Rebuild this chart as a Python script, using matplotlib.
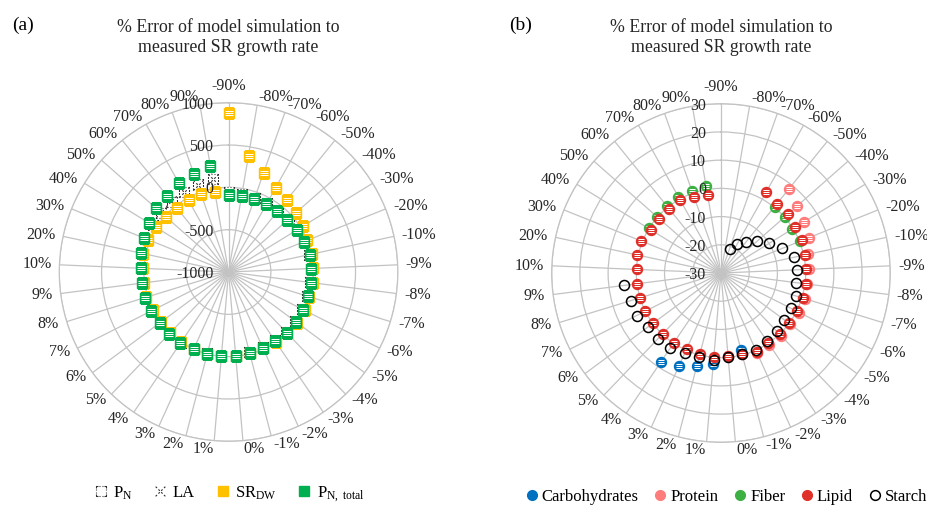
import numpy as np
import matplotlib.pyplot as plt
from matplotlib.path import Path
from matplotlib.lines import Line2D

plt.rcParams['font.family'] = ['Liberation Serif', 'DejaVu Serif']
plt.rcParams['mathtext.fontset'] = 'custom'
plt.rcParams['mathtext.rm'] = 'Liberation Serif'
plt.rcParams['mathtext.it'] = 'Liberation Serif:italic'

nan = np.nan

# categories (parameter change), clockwise from the top
cats = ['-90%', '-80%', '-70%', '-60%', '-50%', '-40%', '-30%', '-20%', '-10%',
        '-9%', '-8%', '-7%', '-6%', '-5%', '-4%', '-3%', '-2%', '-1%', '0%',
        '1%', '2%', '3%', '4%', '5%', '6%', '7%', '8%', '9%',
        '10%', '20%', '30%', '40%', '50%', '60%', '70%', '80%', '90%']

# panel (a)
pn = [-60, -65, -70, -70, -65, -55, -50, -45, -25, -30, -25, -28, -22, -22, -12, -24, -26, -22, -8,
      -5, -8, -8, 8, 4, 8, 18, 30, 24, 30, 45, 50, 55, 60, 70, 80, 100, 120]
la = [-62, -67, -72, -72, -67, -58, -50, -45, -25, -30, -25, -28, -22, -22, -12, -24, -26, -22, -8,
      -5, -8, -8, 8, 4, 8, 18, 30, 24, 30, 40, 45, 55, 65, 75, 85, 92, 110]
sr_dw = [881, 395, 240, 140, 100, 62, 37, 0, 5, 0, 5, 0, 5, 5, 0, -5, -21, -16, -3,
         0, -2, -3, 0, -5, -5, 5, 15, 10, 15, 35, 20, 9, -23, -30, -31, -28, -41]
pn_total = [-87, -91, -88, -84, -80, -75, -45, -42, -19, -26, -20, -24, -16, -16, -6, -18, -21, -16, -3,
            0, -2, -3, 14, 10, 14, 25, 37, 30, 35, 56, 81, 108, 137, 152, 199, 225, 271]
rticks_a = [-1000, -500, 0, 500, 1000]

# panel (b)
carbohydrates = [nan] * 17 + [-1.7, nan, 2.3, 4.2, 6.1, 7.9] + [nan] * 14
protein = [nan] * 4 + [8.4, 6.0, 4.7, 3.5, 1.7, 1.3, 0.8, 1.3, 1.1, 0.6, 0.9, 0.6, 1.2] + [nan] * 20
fiber = [nan] * 4 + [0.2, 0.3, -0.3, 0.0] + [nan] * 23 + [0.1, 0.2, 0.4, 0.9, 0.9, 1.4]
lipid = [nan, nan, nan, 2.7, 1.5, 1.5, 0.9, 1.1, 0.6, 0.2, 0.4, 0.4, 0.1, -0.1, 0.0, 0.0, 0.7, -0.3, -0.5,
         0.0, -0.3, -0.4, -0.2, -0.3, -0.1, 0.2, 0.1, 0.1, -0.1, 0.4, 0.4, -0.8, -0.9, -0.8, -0.5, -1.5, -2.1]
starch = [nan, nan, -20.8, -18.4, -16.0, -12.9, -10.0, -6.6, -3.5, -3.1, -3.2, -2.3, -2.2, -2.2, -1.3, -1.0,
          0.1, -0.3, -0.3, 0.9, 0.7, 1.3, 2.1, 2.3, 2.2, 3.5, 3.3, 4.6] + [nan] * 9
rticks_b = [-30, -20, -10, 0, 10, 20, 30]

grid_c = '#C3C3C3'


def dashed(segs, n):
    verts, codes = [], []
    for (x0, y0), (x1, y1) in segs:
        for k in range(n):
            a, b = (2 * k) / (2 * n - 1), (2 * k + 1) / (2 * n - 1)
            verts += [(x0 + (x1 - x0) * a, y0 + (y1 - y0) * a), (x0 + (x1 - x0) * b, y0 + (y1 - y0) * b)]
            codes += [Path.MOVETO, Path.LINETO]
    return Path(verts, codes)


def stripes(half, ys):
    verts, codes = [], []
    for y, h in zip(ys, half):
        verts += [(-h, y), (h, y)]
        codes += [Path.MOVETO, Path.LINETO]
    return Path(verts, codes)


sq_dots = dashed([((-.5, -.5), (.5, -.5)), ((.5, -.5), (.5, .5)), ((.5, .5), (-.5, .5)), ((-.5, .5), (-.5, -.5))], 4)
x_dots = dashed([((-.5, -.5), (.5, .5)), ((-.5, .5), (.5, -.5))], 4)
sq_stripes = stripes([0.35, 0.35, 0.35], [-0.22, 0.0, 0.22])
ci_stripes = stripes([0.26, 0.32, 0.26], [-0.2, 0.0, 0.2])

theta = np.arange(len(cats)) * 2 * np.pi / len(cats)


def setup(ax, rticks):
    ax.set_theta_zero_location('N')
    ax.set_theta_direction(-1)
    ax.set_ylim(rticks[0], rticks[-1])
    ax.set_yticks(rticks)
    ax.set_yticklabels([])
    ax.set_xticks(theta)
    ax.set_xticklabels([])
    ax.grid(True, color=grid_c, lw=0.9)
    ax.spines['polar'].set_color(grid_c)
    ax.spines['polar'].set_linewidth(0.9)
    ax.tick_params(length=0)
    ax.set_axisbelow(True)
    for v in rticks:
        ax.annotate(str(v), xy=(0, v), xytext=(-15, -2), textcoords='offset pixels',
                    ha='right', va='center', fontsize=11.5, color='#262626')
    for t, lab in zip(theta, cats):
        s, c = np.sin(t), np.cos(t)
        if abs(s) < 1e-6:
            ax.annotate(lab, xy=(t, rticks[-1]), xytext=(0, 9), textcoords='offset pixels',
                        ha='center', va='bottom', fontsize=11.5, color='#262626')
        else:
            ax.annotate(lab, xy=(t, rticks[-1]), xytext=(8 * s, 8 * c), textcoords='offset pixels',
                        ha='left' if s > 0 else 'right', va='center', fontsize=11.5, color='#262626')


def striped(ax, vals, marker, ms, col, strp, sms):
    ax.plot(theta, vals, ls='none', marker=marker, ms=ms, mfc=col, mec=col, mew=1.0)
    ax.plot(theta, vals, ls='none', marker=strp, ms=sms, mec='white', mew=0.7)


fig = plt.figure(figsize=(9.27, 5.08), dpi=100)
axA = fig.add_axes([0.0639, 0.1313, 0.3653, 0.6665], projection='polar')
axB = fig.add_axes([0.5951, 0.1293, 0.3653, 0.6665], projection='polar')
setup(axA, rticks_a)
setup(axB, rticks_b)

# panel (a) series
axA.plot(theta, pn, ls='none', marker='s', ms=7.5, mfc='white', mec='none')
axA.plot(theta, pn, ls='none', marker=sq_dots, ms=7.5, mec='#303030', mew=0.8)
axA.plot(theta, la, ls='none', marker=x_dots, ms=7.5, mec='#303030', mew=0.8)
striped(axA, sr_dw, 's', 7.5, '#FFC000', sq_stripes, 5.25)
striped(axA, pn_total, 's', 7.5, '#00B050', sq_stripes, 5.25)

# panel (b) series
striped(axB, carbohydrates, 'o', 7.2, '#0070C0', ci_stripes, 4.6)
striped(axB, protein, 'o', 7.2, '#FF7C7C', ci_stripes, 4.6)
striped(axB, fiber, 'o', 7.2, '#3CB043', ci_stripes, 4.6)
striped(axB, lipid, 'o', 7.2, '#E0302A', ci_stripes, 4.6)
axB.plot(theta, starch, ls='none', marker='o', ms=7.2, mfc='none', mec='black', mew=1.1)

# titles and panel letters
for cx in (228.5, 721.0):
    fig.text(cx / 927, 1 - 27 / 508, '% Error of model simulation to', ha='center', va='center',
             fontsize=12.8, color='#262626')
    fig.text(cx / 927, 1 - 48 / 508, 'measured SR growth rate', ha='center', va='center',
             fontsize=12.8, color='#262626')
fig.text(23 / 927, 1 - 25 / 508, '(a)', ha='center', va='center', fontsize=14)
fig.text(521 / 927, 1 - 25 / 508, '(b)', ha='center', va='center', fontsize=14)

# legends
hA = [Line2D([], [], ls='none', marker=sq_dots, ms=7, mec='#303030', mew=0.8),
      Line2D([], [], ls='none', marker=x_dots, ms=7, mec='#303030', mew=0.8),
      Line2D([], [], ls='none', marker='s', ms=7, mfc='#FFC000', mec='#FFC000'),
      Line2D([], [], ls='none', marker='s', ms=7, mfc='#00B050', mec='#00B050')]
fig.legend(hA, ['P$_{\\mathrm{N}}$', 'LA', 'SR$_{\\mathrm{DW}}$', 'P$_{\\mathrm{N,\\ total}}$'],
           loc='center', bbox_to_anchor=(229 / 927, 1 - 494 / 508), ncol=4, frameon=False,
           fontsize=12, handlelength=0.9, handletextpad=0.3, columnspacing=1.2)

hB = [Line2D([], [], ls='none', marker='o', ms=7, mfc=c, mec=c)
      for c in ['#0070C0', '#FF7C7C', '#3CB043', '#E0302A']]
hB.append(Line2D([], [], ls='none', marker='o', ms=7, mfc='none', mec='black', mew=1.1))
fig.legend(hB, ['Carbohydrates', 'Protein', 'Fiber', 'Lipid', 'Starch'],
           loc='center', bbox_to_anchor=(726 / 927, 1 - 497 / 508), ncol=5, frameon=False,
           fontsize=12, handlelength=0.8, handletextpad=0.2, columnspacing=0.9)

fig.savefig('out.png', dpi=100)
